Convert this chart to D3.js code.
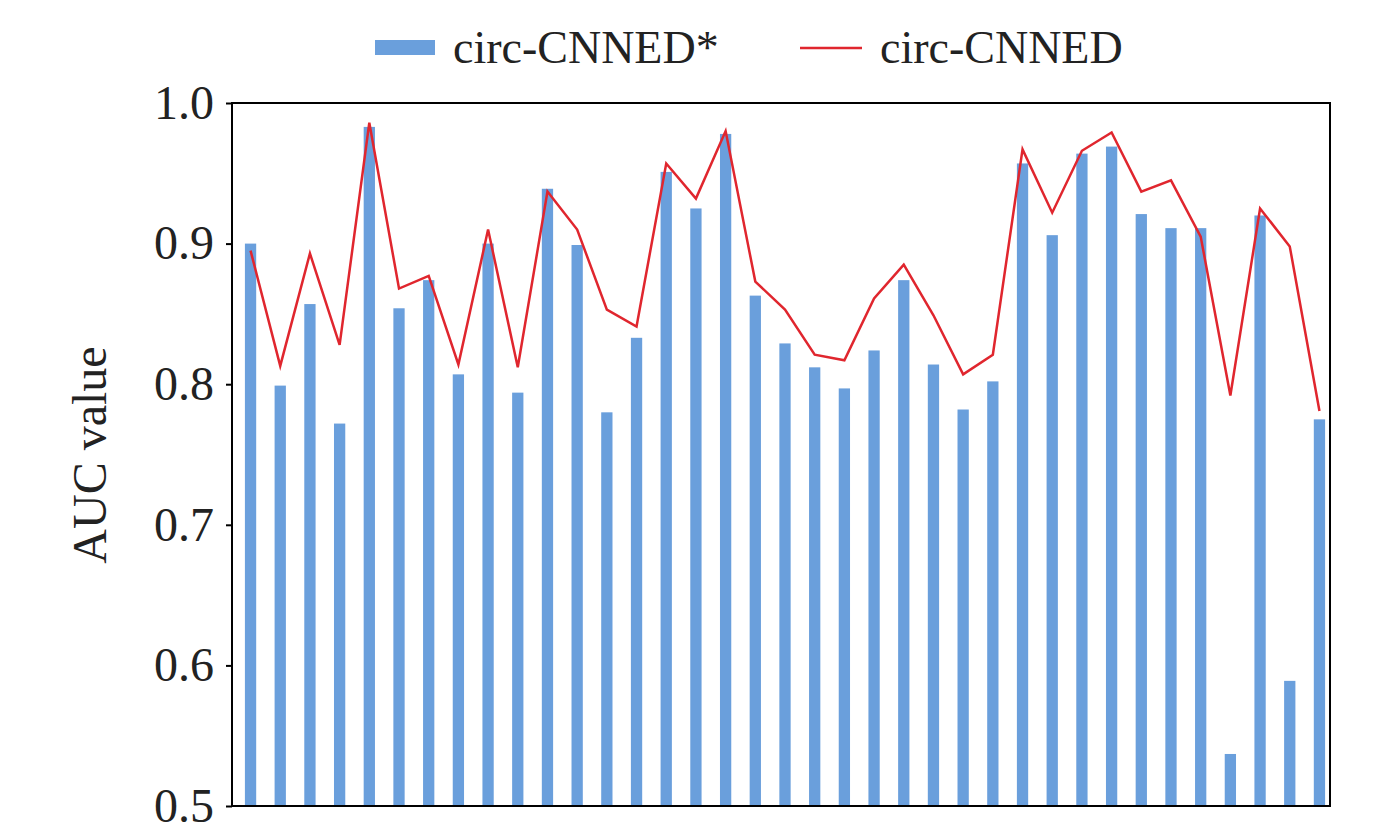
<!DOCTYPE html>
<html><head><meta charset="utf-8">
<script src="https://cdn.jsdelivr.net/npm/d3@7"></script>
<style>body{margin:0;background:#fff}</style></head>
<body><svg id="c" width="1378" height="836"></svg>
<script>
const categories = d3.range(1, 38).map(String);
const starValues = [0.900,0.799,0.857,0.772,0.983,0.854,0.874,0.807,0.900,0.794,0.939,0.899,0.780,0.833,0.951,0.925,0.978,0.863,0.829,0.812,0.797,0.824,0.874,0.814,0.782,0.802,0.957,0.906,0.964,0.969,0.921,0.911,0.911,0.537,0.920,0.589,0.775];
const lineValues = [0.895,0.813,0.893,0.828,0.986,0.868,0.877,0.814,0.910,0.812,0.937,0.910,0.853,0.841,0.957,0.932,0.980,0.873,0.853,0.821,0.817,0.861,0.885,0.849,0.807,0.821,0.967,0.922,0.966,0.979,0.937,0.945,0.905,0.792,0.925,0.898,0.781];
const yTicks = [0.5,0.6,0.7,0.8,0.9,1.0];
const seriesNames = ["circ-CNNED*","circ-CNNED"];

const svg = d3.select("#c");
const m = {l:232, r:1330, t:103, b:806};
const x = d3.scaleBand().domain(categories).range([m.l+4, m.r+4]).paddingInner(0.62).paddingOuter(0.3);
const y = d3.scaleLinear().domain([0.5,1.0]).range([m.b, m.t]);
const font = "'Liberation Serif','Times New Roman',serif";
const blue = "#6a9fdc", red = "#e0262e";

svg.append("g").selectAll("rect").data(starValues).join("rect")
  .attr("x",(d,i)=>x(categories[i])).attr("width",x.bandwidth())
  .attr("y",d=>y(d)).attr("height",d=>y(0.5)-y(d)).attr("fill",blue);

svg.append("path").datum(lineValues)
  .attr("d", d3.line().x((d,i)=>x(categories[i])+x.bandwidth()/2).y(d=>y(d)))
  .attr("fill","none").attr("stroke",red).attr("stroke-width",2.5);

svg.append("rect").attr("x",m.l).attr("y",m.t).attr("width",m.r-m.l).attr("height",m.b-m.t)
  .attr("fill","none").attr("stroke","#000").attr("stroke-width",2);

const ya = svg.append("g").attr("transform",`translate(${m.l},0)`)
  .call(d3.axisLeft(y).tickValues(yTicks).tickFormat(d3.format(".1f")).tickSize(6).tickPadding(12));
ya.select(".domain").remove();
ya.selectAll("line").attr("stroke","#000").attr("stroke-width",2);
ya.selectAll("text").attr("font-family",font).attr("font-size",48).attr("fill","#222");

svg.append("text").attr("transform","translate(106,455) rotate(-90)").attr("text-anchor","middle")
  .attr("font-family",font).attr("font-size",48).attr("fill","#222").text("AUC value");

const lg = svg.append("g");
lg.append("rect").attr("x",375).attr("y",40).attr("width",60).attr("height",15).attr("fill",blue);
lg.append("text").attr("x",453).attr("y",63).attr("font-family",font).attr("font-size",46).attr("fill","#222").text(seriesNames[0]);
lg.append("line").attr("x1",800).attr("x2",862).attr("y1",48).attr("y2",48).attr("stroke",red).attr("stroke-width",2.5);
lg.append("text").attr("x",880).attr("y",63).attr("font-family",font).attr("font-size",46).attr("fill","#222").text(seriesNames[1]);
</script></body></html>
